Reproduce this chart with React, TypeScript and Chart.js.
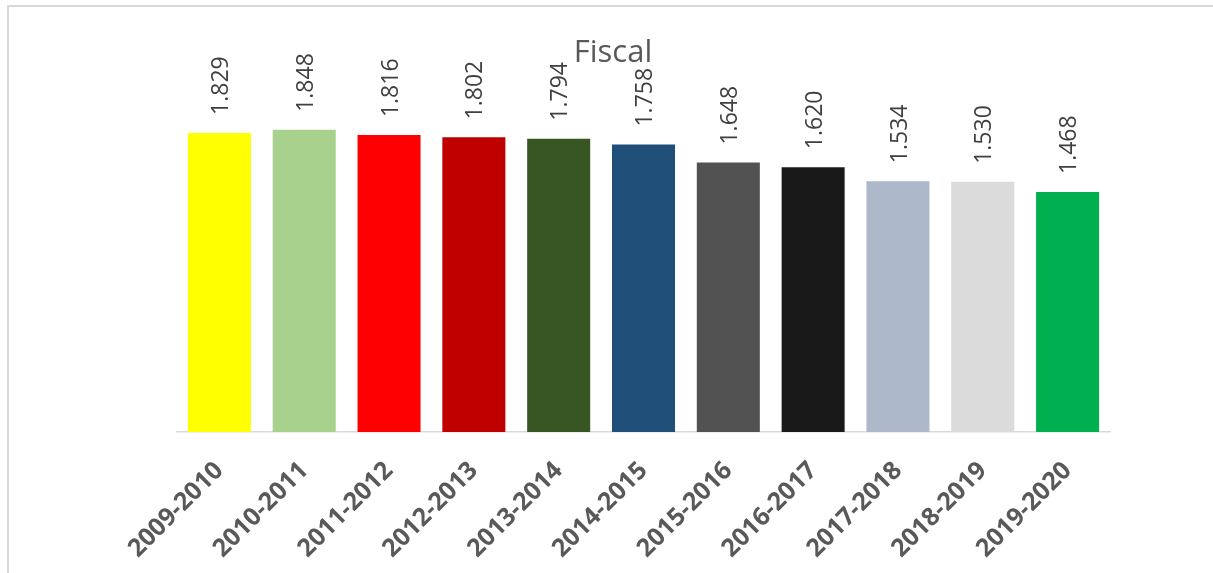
import React, { useEffect, useRef } from "react";
import { Chart, registerables } from "chart.js";

Chart.register(...registerables);

const categories = [
  "2009-2010",
  "2010-2011",
  "2011-2012",
  "2012-2013",
  "2013-2014",
  "2014-2015",
  "2015-2016",
  "2016-2017",
  "2017-2018",
  "2018-2019",
  "2019-2020",
];

const values = [1.829, 1.848, 1.816, 1.802, 1.794, 1.758, 1.648, 1.62, 1.534, 1.53, 1.468];

const barColors = [
  "#FFFF00",
  "#A9D18E",
  "#FF0000",
  "#C00000",
  "#375623",
  "#1F4E79",
  "#525252",
  "#191919",
  "#ADB9CA",
  "#DBDBDB",
  "#00B050",
];

const titleText = "Fiscal";
const FONT = "'Open Sans', 'Noto Sans', sans-serif";

const overlayPlugin = {
  id: "overlayText",
  afterDatasetsDraw(chart: any) {
    const ctx = chart.ctx;
    const meta = chart.getDatasetMeta(0);
    ctx.save();
    ctx.fillStyle = "#404040";
    ctx.font = `23px ${FONT}`;
    ctx.textAlign = "left";
    ctx.textBaseline = "middle";
    meta.data.forEach((bar: any, i: number) => {
      ctx.save();
      ctx.translate(bar.x + 2, bar.y - 18);
      ctx.rotate(-Math.PI / 2);
      ctx.fillText(values[i].toFixed(3), 0, 0);
      ctx.restore();
    });
    ctx.fillStyle = "#595959";
    ctx.font = `31px ${FONT}`;
    ctx.textAlign = "center";
    ctx.textBaseline = "alphabetic";
    ctx.fillText(titleText, 613, 62);
    ctx.restore();
  },
};

export default function App() {
  const canvasRef = useRef<HTMLCanvasElement | null>(null);

  useEffect(() => {
    document.body.style.overflow = "hidden";
    const canvas = canvasRef.current;
    if (!canvas) return;
    const chart = new Chart(canvas, {
      type: "bar",
      data: {
        labels: categories,
        datasets: [
          {
            data: values,
            backgroundColor: barColors,
            borderWidth: 0,
            barPercentage: 1,
            categoryPercentage: 0.743,
          },
        ],
      },
      options: {
        animation: false,
        responsive: false,
        maintainAspectRatio: false,
        layout: { padding: { left: 177, right: 103, top: 105, bottom: 0 } },
        plugins: {
          legend: { display: false },
          title: { display: false },
          tooltip: { enabled: false },
        },
        scales: {
          x: {
            grid: { display: false, drawTicks: false },
            border: { display: true, color: "#d9d9d9", width: 1.5 },
            ticks: {
              color: "#595959",
              font: { family: FONT, size: 25, weight: "bold" },
              minRotation: 45,
              maxRotation: 45,
              padding: 24,
            },
            afterFit: (scale: any) => {
              scale.height = 141;
            },
          },
          y: {
            display: false,
            min: 0,
            max: 2,
          },
        },
      },
      plugins: [overlayPlugin],
    });
    return () => chart.destroy();
  }, []);

  return (
    <div style={{ position: "absolute", left: 0, top: 0, width: 1213, height: 573, background: "#fff" }}>
      <div
        style={{
          position: "absolute",
          left: 7,
          top: 5,
          width: 1206,
          height: 568,
          borderTop: "2px solid #d9d9d9",
          borderLeft: "2px solid #d9d9d9",
          boxSizing: "border-box",
        }}
      />
      <canvas
        ref={canvasRef}
        width={1213}
        height={573}
        style={{ position: "absolute", left: 0, top: 0, width: 1213, height: 573 }}
      />
    </div>
  );
}
